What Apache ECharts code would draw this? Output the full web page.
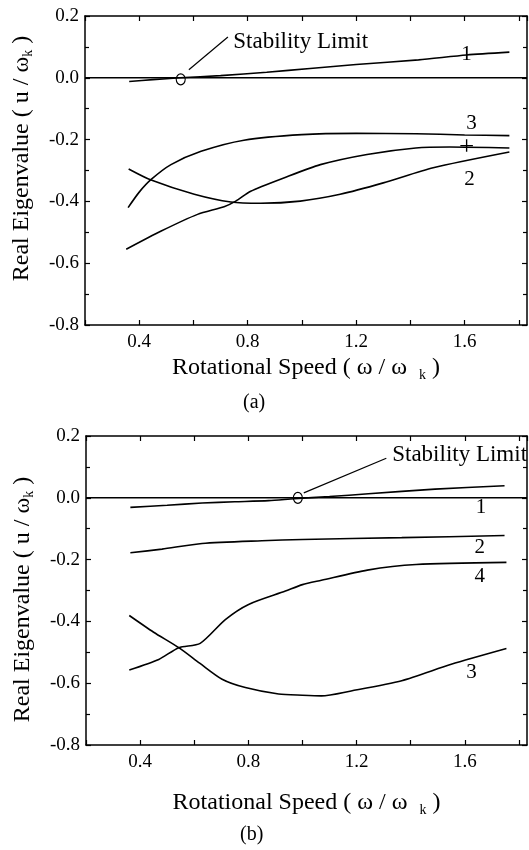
<!DOCTYPE html>
<html><head><meta charset="utf-8">
<script src="https://cdn.jsdelivr.net/npm/echarts@6/dist/echarts.min.js"></script>
<style>html,body{margin:0;padding:0;background:#fff}#c{width:529px;height:850px}</style>
</head><body><div id="c"></div>
<script>
// ---------- DATA: panel (a) ----------
const a1x = [0.363,0.45,0.55,0.70,0.87,1.03,1.2,1.43,1.607,1.765];
const a1y = [-0.012,-0.006,0.0,0.007,0.018,0.030,0.043,0.058,0.074,0.083];
const a3x = [0.359,0.40,0.444,0.517,0.628,0.786,1.0,1.2,1.42,1.6,1.765];
const a3y = [-0.42,-0.37,-0.329,-0.281,-0.238,-0.202,-0.184,-0.180,-0.181,-0.185,-0.187];
const a2x = [0.361,0.444,0.603,0.738,0.848,0.994,1.141,1.30,1.484,1.765];
const a2y = [-0.295,-0.331,-0.377,-0.402,-0.406,-0.399,-0.377,-0.340,-0.291,-0.240];
const a4x = [0.352,0.481,0.615,0.713,0.756,0.811,0.933,1.068,1.24,1.42,1.545,1.765];
const a4y = [-0.555,-0.496,-0.442,-0.417,-0.399,-0.367,-0.324,-0.281,-0.248,-0.227,-0.224,-0.227];
// ---------- DATA: panel (b) ----------
const b1x = [0.364,0.5,0.629,0.75,0.875,0.97,1.1,1.244,1.49,1.747];
const b1y = [-0.031,-0.024,-0.017,-0.013,-0.009,-0.003,0.004,0.013,0.028,0.039];
const b2x = [0.364,0.481,0.629,0.85,1.0,1.367,1.747];
const b2y = [-0.178,-0.166,-0.148,-0.139,-0.135,-0.129,-0.122];
const b3x = [0.36,0.45,0.543,0.62,0.703,0.789,0.912,1.0,1.07,1.18,1.367,1.55,1.754];
const b3y = [-0.381,-0.435,-0.485,-0.535,-0.587,-0.614,-0.635,-0.639,-0.641,-0.625,-0.592,-0.539,-0.488];
const b4x = [0.36,0.469,0.543,0.622,0.715,0.801,0.937,1.0,1.07,1.24,1.42,1.754];
const b4y = [-0.557,-0.523,-0.485,-0.471,-0.394,-0.345,-0.302,-0.281,-0.267,-0.234,-0.216,-0.209];
// ---------- axis / labels ----------
const xMin = 0.2, xMax = 1.83, xStep = 0.2;
const yMin = -0.8, yMax = 0.2, yStep = 0.2;
const xTitle = 'Rotational Speed ( ω / ω  {s|k} )';
const yTitle = 'Real Eigenvalue ( u / ω{s|k} )';
const panelNames = ['(a)','(b)'];
// curve labels [x, y, text]
const labelsA = [[1.607,0.076,'1'],[1.625,-0.147,'3'],[1.607,-0.228,'+'],[1.618,-0.33,'2']];
const labelsB = [[1.66,-0.03,'1'],[1.655,-0.162,'2'],[1.655,-0.254,'4'],[1.625,-0.565,'3']];
// stability limit annotation
const stabA = {text:[0.745,0.116], lead:[[0.583,0.026],[0.727,0.132]], circ:[0.553,-0.005]};
const stabB = {text:[1.33,0.14], lead:[[1.005,0.016],[1.31,0.128]], circ:[0.983,0.0]};

const FONT = 'Liberation Serif';
const zip = (xs, ys) => xs.map((v,i)=>[v, ys[i]]);
const chart = echarts.init(document.getElementById('c'));

const grids = [
  {left:85, top:16, width:442, height:309},
  {left:86, top:436, width:441, height:309}
];
const yTitlePad = [[0,0,0,24],[0,18,0,0]];
const xAxes = [], yAxes = [];
grids.forEach((g, gi) => {
  const common = {type:'value', min:xMin, max:xMax, interval:xStep, gridIndex:gi,
    axisLine:{show:true, onZero:false, lineStyle:{color:'#000', width:1.5}},
    axisTick:{show:true, inside:true, length:5, lineStyle:{color:'#000', width:1.2}},
    splitLine:{show:false}};
  xAxes.push(Object.assign({}, common, {position:'bottom',
    axisLabel:{show:true, color:'#000', fontFamily:FONT, fontSize:19, margin:8, showMaxLabel:false,
      formatter: v => (Math.round(v*10) % 4 === 0 ? v.toFixed(1) : '')},
    name: xTitle, nameLocation:'middle', nameGap: gi===0 ? 28 : 43,
    nameTextStyle:{color:'#000', fontFamily:FONT, fontSize:24,
      rich:{s:{fontSize:14, fontFamily:FONT, color:'#000', verticalAlign:'bottom', padding:[15,0,0,0]}}}}));
  xAxes.push(Object.assign({}, common, {position:'top', axisLabel:{show:false}}));
  const ycommon = {type:'value', min:yMin, max:yMax, interval:yStep, gridIndex:gi,
    axisLine:{show:true, onZero:false, lineStyle:{color:'#000', width:1.5}},
    axisTick:{show:true, inside:true, length:5, lineStyle:{color:'#000', width:1.2}},
    minorTick:{show:true, splitNumber:2, length:4, lineStyle:{color:'#000', width:1.2}},
    splitLine:{show:false}};
  yAxes.push(Object.assign({}, ycommon, {position:'left',
    axisLabel:{show:true, color:'#000', fontFamily:FONT, fontSize:19, margin:6,
      formatter: v => v.toFixed(1)},
    name: yTitle, nameLocation:'middle', nameGap:50, nameRotate:90,
    nameTextStyle:{color:'#000', fontFamily:FONT, fontSize:24, padding:yTitlePad[gi],
      rich:{s:{fontSize:14, fontFamily:FONT, color:'#000', verticalAlign:'bottom', padding:[12,0,0,0]}}}}));
  yAxes.push(Object.assign({}, ycommon, {position:'right', axisLabel:{show:false}}));
});

const series = [];
function curve(gi, xs, ys) {
  series.push({type:'line', xAxisIndex:gi*2, yAxisIndex:gi*2, data:zip(xs,ys), showSymbol:false,
    symbol:'none', smooth:0.25, lineStyle:{color:'#000', width:1.6}, silent:true, animation:false});
}
curve(0,a1x,a1y); curve(0,a2x,a2y); curve(0,a3x,a3y); curve(0,a4x,a4y);
curve(1,b1x,b1y); curve(1,b2x,b2y); curve(1,b3x,b3y); curve(1,b4x,b4y);

[ [labelsA, stabA], [labelsB, stabB] ].forEach(([labs, st], gi) => {
  // zero line
  series.push({type:'line', xAxisIndex:gi*2, yAxisIndex:gi*2, data:[[xMin,0],[xMax,0]],
    symbol:'none', lineStyle:{color:'#000', width:1.6}, animation:false, silent:true});
  // curve number labels
  series.push({type:'scatter', xAxisIndex:gi*2, yAxisIndex:gi*2, symbolSize:1, animation:false, silent:true,
    itemStyle:{opacity:0},
    data: labs.map(l => ({value:[l[0], l[1]], name:l[2],
      label: l[2] === '+' ? {fontSize:27} : undefined})),
    label:{show:true, position:'inside', opacity:1, formatter: p => p.name, color:'#000',
      fontFamily:FONT, fontSize:21}});
  // leader
  series.push({type:'line', xAxisIndex:gi*2, yAxisIndex:gi*2, data:st.lead, symbol:'none',
    lineStyle:{color:'#000', width:1.2}, animation:false, silent:true});
  // circle
  series.push({type:'scatter', xAxisIndex:gi*2, yAxisIndex:gi*2, data:[st.circ], symbol:'circle',
    symbolSize:[9,11], itemStyle:{color:'rgba(0,0,0,0)', borderColor:'#000', borderWidth:1.2, opacity:1},
    animation:false, silent:true});
  // text
  series.push({type:'scatter', xAxisIndex:gi*2, yAxisIndex:gi*2, data:[st.text], symbolSize:1, animation:false,
    silent:true, itemStyle:{opacity:0},
    label:{show:true, position:'right', distance:0, opacity:1, formatter:'Stability Limit', color:'#000',
      fontFamily:FONT, fontSize:23}});
});

chart.setOption({
  backgroundColor:'#fff',
  animation:false,
  grid: grids,
  xAxis: xAxes,
  yAxis: yAxes,
  series: series,
  graphic: [
    {type:'text', left:243, top:393, style:{text:panelNames[0], fill:'#000', font:'20px "Liberation Serif"'}},
    {type:'text', left:240, top:825, style:{text:panelNames[1], fill:'#000', font:'20px "Liberation Serif"'}}
  ]
});
</script></body></html>
